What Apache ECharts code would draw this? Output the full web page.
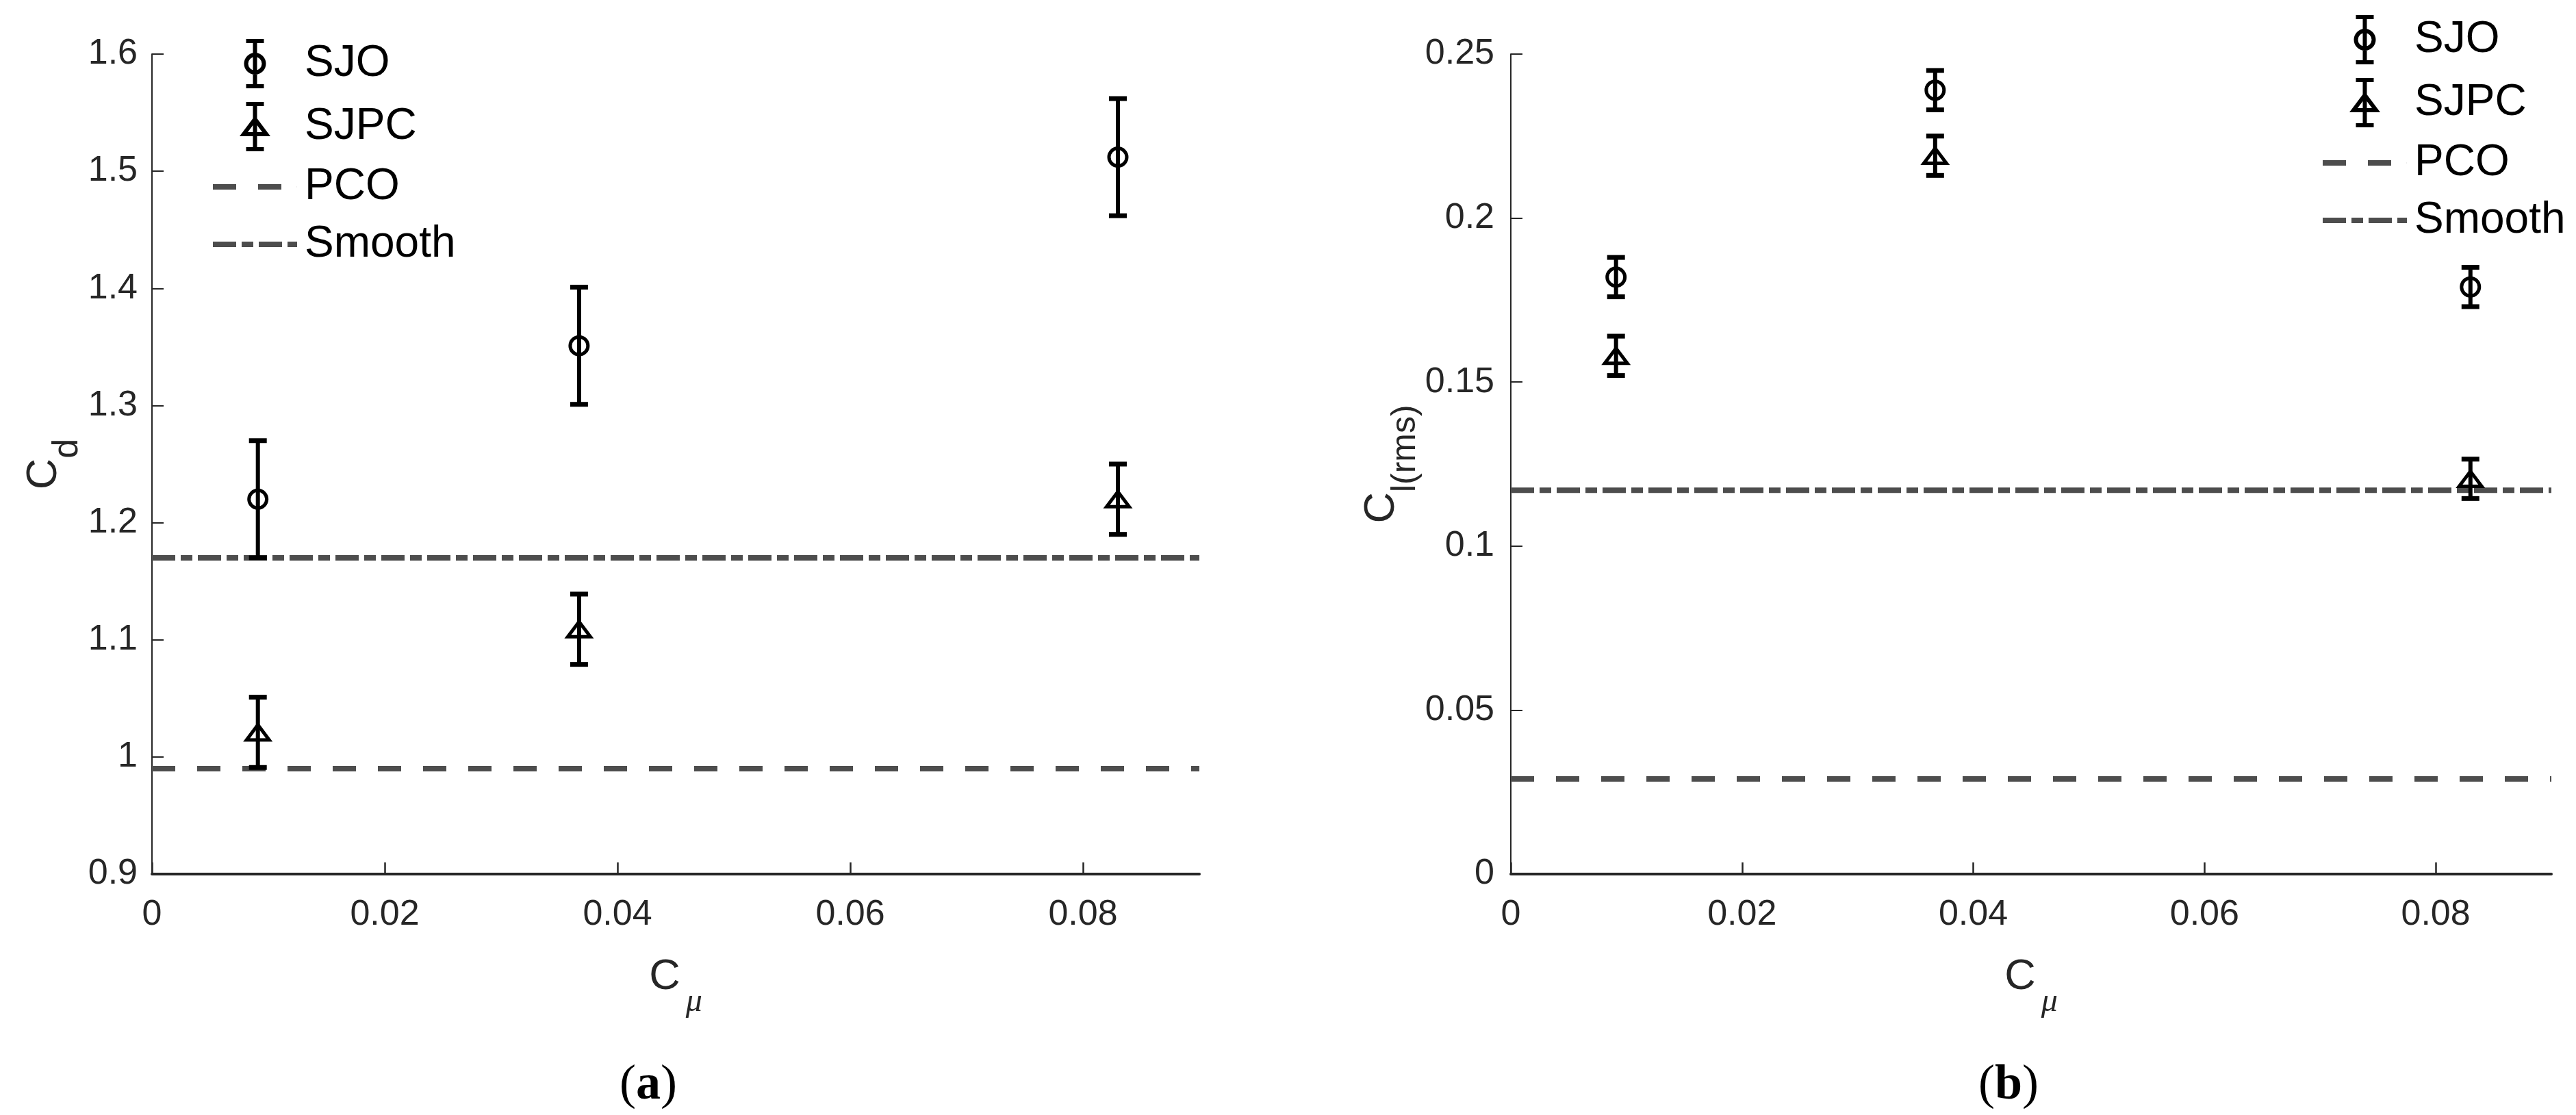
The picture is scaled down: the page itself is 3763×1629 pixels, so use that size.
<!DOCTYPE html>
<html>
<head>
<meta charset="utf-8">
<script src="https://cdn.jsdelivr.net/npm/echarts@6/dist/echarts.min.js"></script>
<style>
  html, body { margin: 0; padding: 0; background: #fff; }
  #main { width: 3763px; height: 1629px; }
</style>
</head>
<body>
<div id="main"></div>
<script>
// C_mu positions of the three jet cases
const cmu = [0.0091, 0.0367, 0.083];

// (a) drag coefficient
const cdSJO = [1.22, 1.351, 1.512];
const cdSJOErr = [0.05, 0.05, 0.05];
const cdSJPC = [1.021, 1.109, 1.22];
const cdSJPCErr = [0.03, 0.03, 0.03];
const cdPCO = 0.99;
const cdSmooth = 1.17;

// (b) rms lift coefficient
const clSJO = [0.182, 0.239, 0.179];
const clSJOErr = [0.006, 0.006, 0.006];
const clSJPC = [0.158, 0.219, 0.1205];
const clSJPCErr = [0.006, 0.006, 0.006];
const clPCO = 0.029;
const clSmooth = 0.117;

// axis ticks
const xTicks = [0, 0.02, 0.04, 0.06, 0.08];
const xRange = [0, 0.09];
const cdTicks = [0.9, 1, 1.1, 1.2, 1.3, 1.4, 1.5, 1.6];
const clTicks = [0, 0.05, 0.1, 0.15, 0.2, 0.25];

const FONT = "'Liberation Sans', Arial, Helvetica, sans-serif";
const AXIS_COLOR = '#262626';
const REF_COLOR = '#4d4d4d';

const chart = echarts.init(document.getElementById('main'), null, { renderer: 'canvas' });

function errData(xs, ys, es) {
  return xs.map(function (x, i) { return [x, ys[i], es[i]]; });
}

// error bar with circle or triangle marker
function errorRender(marker) {
  return function (params, api) {
    const x = api.value(0), y = api.value(1), e = api.value(2);
    const c = api.coord([x, y]);
    const hi = api.coord([x, y + e]);
    const lo = api.coord([x, y - e]);
    const children = [
      { type: 'line', shape: { x1: c[0], y1: hi[1], x2: c[0], y2: lo[1] }, style: { stroke: '#000', lineWidth: 6 } },
      { type: 'line', shape: { x1: c[0] - 13, y1: hi[1], x2: c[0] + 13, y2: hi[1] }, style: { stroke: '#000', lineWidth: 7 } },
      { type: 'line', shape: { x1: c[0] - 13, y1: lo[1], x2: c[0] + 13, y2: lo[1] }, style: { stroke: '#000', lineWidth: 7 } }
    ];
    if (marker === 'circle') {
      children.push({ type: 'circle', shape: { cx: c[0], cy: c[1], r: 13 }, style: { fill: 'none', stroke: '#000', lineWidth: 5 } });
    } else {
      children.push({
        type: 'polygon',
        shape: { points: [[c[0] - 16.5, c[1] + 11], [c[0] + 16.5, c[1] + 11], [c[0], c[1] - 11]] },
        style: { fill: 'none', stroke: '#000', lineWidth: 5, lineJoin: 'miter' }
      });
    }
    return { type: 'group', children: children };
  };
}

function refLine(name, value, dash, idx) {
  return {
    name: name,
    type: 'line',
    xAxisIndex: idx,
    yAxisIndex: idx,
    symbol: 'none',
    silent: true,
    data: [[xRange[0], value], [xRange[1], value]],
    lineStyle: { color: REF_COLOR, width: 8, type: dash }
  };
}

function errSeries(name, data, marker, idx) {
  return {
    name: name,
    type: 'custom',
    xAxisIndex: idx,
    yAxisIndex: idx,
    renderItem: errorRender(marker),
    encode: { x: 0, y: 1 },
    data: data,
    itemStyle: { color: '#000' },
    z: 5
  };
}

const iconSJO = 'path://M0,0L26,0M0,66L26,66M13,0L13,66M0,33A13,13,0,1,1,26,33A13,13,0,1,1,0,33Z';
const iconSJPC = 'path://M3.5,0L29.5,0M3.5,66L29.5,66M16.5,0L16.5,66M0,44L33,44L16.5,22Z';
const iconPCO = 'path://M0,0H34V8H0ZM66,0H100V8H66ZM122.9,3H123V5H122.9Z';
const iconSmooth = 'path://M0,0H34V8H0ZM42,0H59V8H42ZM67,0H101V8H67ZM109,0H123V8H109Z';

function legendAt(left, top) {
  const errStyle = { color: 'rgba(0,0,0,0)', borderColor: '#000', borderWidth: 6 };
  const lineStyle = { color: REF_COLOR, borderWidth: 0 };
  return {
    orient: 'vertical',
    left: left,
    top: top,
    align: 'left',
    padding: 0,
    itemWidth: 123,
    itemHeight: 66,
    itemGap: 20,
    selectedMode: false,
    symbolKeepAspect: true,
    textStyle: { fontSize: 64, color: '#000', fontFamily: FONT, padding: [0, 0, 0, 6] },
    data: [
      { name: 'SJO', icon: iconSJO, itemStyle: errStyle },
      { name: 'SJPC', icon: iconSJPC, itemStyle: errStyle },
      { name: 'PCO', icon: iconPCO, itemStyle: lineStyle },
      { name: 'Smooth', icon: iconSmooth, itemStyle: lineStyle }
    ]
  };
}

function xAxisAt(idx) {
  return {
    type: 'value',
    gridIndex: idx,
    min: xRange[0],
    max: xRange[1],
    name: '{c|C}{s|μ}',
    nameLocation: 'middle',
    nameGap: 78,
    nameTextStyle: {
      rich: {
        c: { fontSize: 63, lineHeight: 63, color: AXIS_COLOR, fontFamily: FONT },
        s: { fontSize: 48, lineHeight: 48, color: AXIS_COLOR, fontFamily: "'Liberation Serif', serif", fontStyle: 'italic', padding: [72, 0, 0, 8] }
      }
    },
    axisLine: { show: true, onZero: false, lineStyle: { color: AXIS_COLOR, width: 4 } },
    axisTick: { show: true, inside: true, length: 17, customValues: xTicks, lineStyle: { color: AXIS_COLOR, width: 2.5 } },
    axisLabel: { customValues: xTicks, margin: 34, fontSize: 52, color: AXIS_COLOR, fontFamily: FONT },
    splitLine: { show: false }
  };
}

function yAxisAt(idx, ticks, nameText, subSize, nameGap, labelMargin) {
  return {
    type: 'value',
    gridIndex: idx,
    min: ticks[0],
    max: ticks[ticks.length - 1],
    name: nameText,
    nameLocation: 'middle',
    nameGap: nameGap,
    nameTextStyle: {
      rich: {
        c: { fontSize: 63, lineHeight: 63, color: AXIS_COLOR, fontFamily: FONT },
        s: { fontSize: subSize, lineHeight: subSize, color: AXIS_COLOR, fontFamily: FONT, padding: [68, 0, 0, 0] }
      }
    },
    axisLine: { show: true, onZero: false, lineStyle: { color: AXIS_COLOR, width: 2 } },
    axisTick: { show: true, inside: true, length: 17, customValues: ticks, lineStyle: { color: AXIS_COLOR, width: 2 } },
    axisLabel: { customValues: ticks, margin: labelMargin, fontSize: 52, color: AXIS_COLOR, fontFamily: FONT },
    splitLine: { show: false }
  };
}

const option = {
  backgroundColor: '#fff',
  animation: false,
  grid: [
    { left: 222, top: 79, width: 1530, height: 1198, outerBoundsMode: 'none', containLabel: false },
    { left: 2207, top: 79, width: 1520, height: 1198, outerBoundsMode: 'none', containLabel: false }
  ],
  legend: [legendAt(311, 57), legendAt(3393, 22)],
  xAxis: [xAxisAt(0), xAxisAt(1)],
  yAxis: [
    yAxisAt(0, cdTicks, '{c|C}{s|d}', 52, 119, 21),
    yAxisAt(1, clTicks, '{c|C}{s|l(rms)}', 50, 152, 24)
  ],
  graphic: [
    {
      type: 'text', x: 947, y: 1586,
      style: {
        text: '({b|a})', fontSize: 72, fontFamily: "'Liberation Serif', serif", fill: '#000',
        align: 'center', verticalAlign: 'middle',
        rich: { b: { fontSize: 72, fontWeight: 'bold', fontFamily: "'Liberation Serif', serif", fill: '#000' } }
      }
    },
    {
      type: 'text', x: 2934, y: 1586,
      style: {
        text: '({b|b})', fontSize: 72, fontFamily: "'Liberation Serif', serif", fill: '#000',
        align: 'center', verticalAlign: 'middle',
        rich: { b: { fontSize: 72, fontWeight: 'bold', fontFamily: "'Liberation Serif', serif", fill: '#000' } }
      }
    }
  ],
  series: [
    refLine('PCO', cdPCO, [34, 32], 0),
    refLine('Smooth', cdSmooth, [34, 8, 17, 8], 0),
    errSeries('SJO', errData(cmu, cdSJO, cdSJOErr), 'circle', 0),
    errSeries('SJPC', errData(cmu, cdSJPC, cdSJPCErr), 'triangle', 0),
    refLine('PCO', clPCO, [34, 32], 1),
    refLine('Smooth', clSmooth, [34, 8, 17, 8], 1),
    errSeries('SJO', errData(cmu, clSJO, clSJOErr), 'circle', 1),
    errSeries('SJPC', errData(cmu, clSJPC, clSJPCErr), 'triangle', 1)
  ]
};

chart.setOption(option);
</script>
</body>
</html>
